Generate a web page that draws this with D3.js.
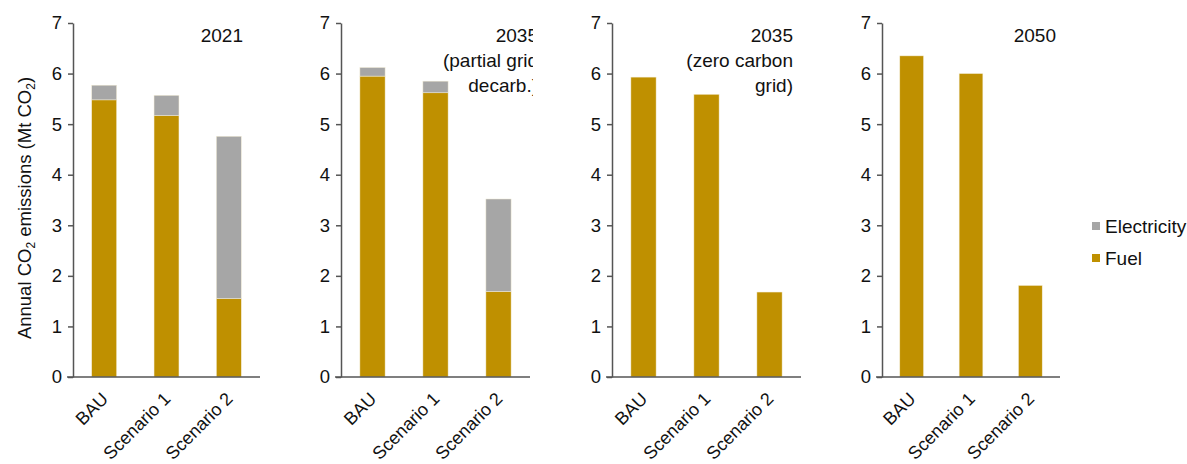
<!DOCTYPE html>
<html>
<head>
<meta charset="utf-8">
<script src="https://cdn.jsdelivr.net/npm/d3@7"></script>
<style>
  body { margin: 0; background: #fff; }
  svg { font-family: "Liberation Sans", Arial, sans-serif; }
</style>
</head>
<body>
<div id="chart"></div>
<script>
// categories and series
const categories = ['BAU', 'Scenario 1', 'Scenario 2'];
const seriesNames = ['Fuel', 'Electricity'];
const panelTitles = [
  ['2021'],
  ['2035', '(partial grid', 'decarb.)'],
  ['2035', '(zero carbon', 'grid)'],
  ['2050']
];
const fuel2021 = [5.48, 5.17, 1.55];
const elec2021 = [0.29, 0.40, 3.21];
const fuel2035p = [5.95, 5.62, 1.69];
const elec2035p = [0.17, 0.23, 1.83];
const fuel2035z = [5.93, 5.59, 1.68];
const elec2035z = [0, 0, 0];
const fuel2050 = [6.35, 6.00, 1.81];
const elec2050 = [0, 0, 0];
const yTicks = [0, 1, 2, 3, 4, 5, 6, 7];

const panelFuel = [fuel2021, fuel2035p, fuel2035z, fuel2050];
const panelElec = [elec2021, elec2035p, elec2035z, elec2050];

const colors = { Fuel: '#bf9000', Electricity: '#a6a6a6' };
const textColor = '#111';
const axisColor = '#555';

const width = 1187, height = 464;
const yTop = 23, yBottom = 377;

// panel layout: left edge of axis, plot width, title anchor, clip edge
const panels = [
  { left: 73, w: 187, titleX: 243, clip: null },
  { left: 341, w: 189, titleX: 538, clip: 533 },
  { left: 612, w: 189, titleX: 793, clip: null },
  { left: 882, w: 178, titleX: 1056, clip: null }
];

const svg = d3.select('#chart').append('svg')
  .attr('width', width)
  .attr('height', height);

const y = d3.scaleLinear().domain([0, 7]).range([yBottom, yTop]);

const stack = d3.stack().keys(seriesNames);

panels.forEach((p, i) => {
  const rows = categories.map((c, j) => ({
    category: c,
    Fuel: panelFuel[i][j],
    Electricity: panelElec[i][j]
  }));

  const x = d3.scaleBand()
    .domain(categories)
    .range([p.left, p.left + p.w])
    .paddingInner(0.6)
    .paddingOuter(0.3);

  const g = svg.append('g');

  // bars
  g.selectAll('g.series')
    .data(stack(rows))
    .join('g')
    .attr('class', 'series')
    .attr('fill', d => colors[d.key])
    .selectAll('rect')
    .data(d => d.filter(s => s[1] - s[0] > 0))
    .join('rect')
    .attr('x', d => x(d.data.category))
    .attr('width', x.bandwidth())
    .attr('y', d => y(d[1]))
    .attr('height', d => y(d[0]) - y(d[1]))
    .attr('stroke', '#f4eed8')
    .attr('stroke-width', 0.5);

  // y axis
  const yAxis = g.append('g')
    .attr('transform', `translate(${p.left},0)`)
    .call(d3.axisLeft(y).tickValues(yTicks).tickFormat(d3.format('d'))
      .tickSize(5).tickPadding(6).tickSizeOuter(0));
  yAxis.select('.domain').attr('stroke', axisColor).attr('stroke-width', 1.5);
  yAxis.selectAll('.tick line').attr('stroke', axisColor).attr('stroke-width', 1.5);
  yAxis.selectAll('.tick text')
    .attr('fill', textColor)
    .style('font-size', '18.5px');

  // x axis
  const xAxis = g.append('g')
    .attr('transform', `translate(0,${yBottom})`)
    .call(d3.axisBottom(x).tickSize(0).tickSizeOuter(0));
  xAxis.select('.domain')
    .attr('stroke', axisColor).attr('stroke-width', 1.5)
    .attr('d', `M${p.left - 6},0H${p.left + p.w}`);
  xAxis.selectAll('.tick text')
    .attr('fill', textColor)
    .style('font-size', '18px')
    .attr('text-anchor', 'end')
    .attr('dy', null)
    .attr('y', 0)
    .attr('transform', 'translate(5,23) rotate(-45)');

  // title
  let clipAttr = null;
  if (p.clip) {
    const id = 'clip' + i;
    svg.append('clipPath').attr('id', id)
      .append('rect').attr('x', p.left).attr('y', 0)
      .attr('width', p.clip - p.left).attr('height', 120);
    clipAttr = `url(#${id})`;
  }
  const title = g.append('text')
    .attr('text-anchor', 'end')
    .attr('fill', textColor)
    .style('font-size', '19px')
    .attr('clip-path', clipAttr);
  panelTitles[i].forEach((line, k) => {
    title.append('tspan')
      .attr('x', p.titleX)
      .attr('y', 42 + k * 25)
      .text(line);
  });
});

// y axis label with subscripts
const yLabel = svg.append('text')
  .attr('transform', 'translate(31,208) rotate(-90)')
  .attr('text-anchor', 'middle')
  .attr('fill', textColor)
  .style('font-size', '18.5px');
yLabel.append('tspan').text('Annual CO');
yLabel.append('tspan').attr('dy', 4).style('font-size', '12px').text('2');
yLabel.append('tspan').attr('dy', -4).text(' emissions (Mt CO');
yLabel.append('tspan').attr('dy', 4).style('font-size', '12px').text('2');
yLabel.append('tspan').attr('dy', -4).text(')');

// legend
const legendKeys = ['Electricity', 'Fuel'];
const legend = svg.append('g').attr('transform', 'translate(1092,226)');
const item = legend.selectAll('g')
  .data(legendKeys)
  .join('g')
  .attr('transform', (d, k) => `translate(0,${k * 32})`);
item.append('rect')
  .attr('x', 0).attr('y', -4)
  .attr('width', 8).attr('height', 8)
  .attr('fill', d => colors[d]);
item.append('text')
  .attr('x', 13).attr('y', 7)
  .attr('fill', textColor)
  .style('font-size', '19px')
  .text(d => d);
</script>
</body>
</html>
